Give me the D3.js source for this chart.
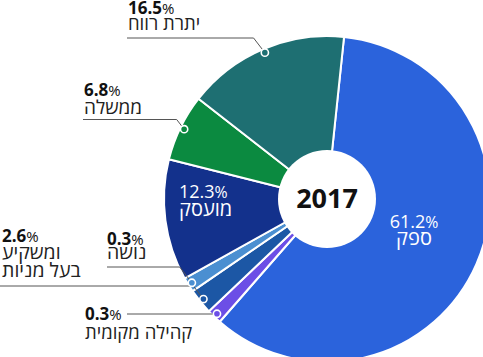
<!DOCTYPE html>
<html><head><meta charset="utf-8">
<script src="https://cdn.jsdelivr.net/npm/d3@7"></script>
<style>
html,body{margin:0;padding:0;background:#fff;overflow:hidden}
svg{display:block;font-family:"Open Sans","Noto Sans","DejaVu Sans",sans-serif}
</style>
</head><body>
<svg id="c" width="483" height="357"></svg>
<script>
// ---- data ----
const year = "2017";
const categories = ["ספק", "קהילה מקומית", "בעל מניות ומשקיע", "נושה", "מועסק", "ממשלה", "יתרת רווח"];
const values = [61.2, 0.3, 2.6, 0.3, 12.3, 6.8, 16.5];
const labelLines = [["ספק"], ["קהילה מקומית"], ["ומשקיע", "בעל מניות"], ["נושה"], ["מועסק"], ["ממשלה"], ["יתרת רווח"]];
const colors = ["#2b63dc", "#6c4ee6", "#1c57a5", "#4b8fd1", "#13318c", "#0b8a40", "#1e6f72"];

// ---- layout ----
const cx = 327, cy = 199, R = 163, R0 = 49, dotR = 159;
const outside = {
  1: {x: 85, pctY: 320, lineYs: [339], leadY: 314, leadX: 127, hs: 18.5},
  2: {x: 2, pctY: 242, lineYs: [259, 277], leadY: 286, leadX: 0, hs: 19.5},
  3: {x: 107, pctY: 245, lineYs: [259], leadY: 267, leadX: 107, hs: 19.5},
  5: {x: 84, pctY: 96, lineYs: [114], leadY: 119.5, leadX: 83, hs: 19},
  6: {x: 128, pctY: 14, lineYs: [30], leadY: 38, leadX: 127, hs: 18.5}
};
const inside = {
  0: {x: 414, pctY: 228, lineY: 245, anchor: "middle"},
  4: {x: 179, pctY: 198, lineY: 216, anchor: "start"}
};

const svg = d3.select("#c");
const data = categories.map((c, i) => ({name: c, value: values[i], lines: labelLines[i], color: colors[i]}));
const deg = Math.PI / 180;
// tiny slices are drawn at a minimum share so they stay visible
const pie = d3.pie().sort(null).value(d => Math.max(d.value, 1.5))
  .startAngle(6 * deg).endAngle(366 * deg);
const arcs = pie(data);
const arc = d3.arc().innerRadius(0).outerRadius(R);

const g = svg.append("g").attr("transform", `translate(${cx},${cy})`);
g.selectAll("path.slice").data(arcs).join("path")
  .attr("class", "slice")
  .attr("d", arc)
  .attr("fill", d => d.data.color)
  .attr("stroke", "#fff").attr("stroke-width", 2).attr("stroke-linejoin", "round");

g.append("circle").attr("r", R0).attr("fill", "#fff");
g.append("text").attr("text-anchor", "middle").attr("y", 9)
  .attr("font-size", 27).attr("font-weight", 700).attr("fill", "#111").text(year);

function pct(sel, v, size, weight, color) {
  sel.append("tspan").attr("font-size", size).attr("font-weight", weight).attr("fill", color).text(v.toFixed(1));
  sel.append("tspan").attr("font-size", size * 0.88).attr("font-weight", 400).attr("fill", color).text("%");
}

// outside labels with leaders
arcs.forEach((a, i) => {
  const L = outside[i];
  if (!L) return;
  const mid = (a.startAngle + a.endAngle) / 2;
  const dx = cx + dotR * Math.sin(mid), dy = cy - dotR * Math.cos(mid);
  const elbowX = dx - 0.77 * Math.abs(dy - L.leadY);
  svg.append("path")
    .attr("d", d3.line()([[L.leadX, L.leadY], [elbowX, L.leadY], [dx, dy]]))
    .attr("fill", "none").attr("stroke", "#555").attr("stroke-width", 1);
  svg.append("circle").attr("cx", dx).attr("cy", dy).attr("r", 3.6)
    .attr("fill", a.data.color).attr("stroke", "#fff").attr("stroke-width", 1.6);
  const t = svg.append("text").attr("x", L.x).attr("y", L.pctY);
  pct(t, a.data.value, 17, 700, "#111");
  a.data.lines.forEach((ln, k) => {
    svg.append("text").attr("x", L.x).attr("y", L.lineYs[k])
      .attr("font-size", L.hs).attr("fill", "#222").text(ln);
  });
});

// inside labels
arcs.forEach((a, i) => {
  const L = inside[i];
  if (!L) return;
  const t = svg.append("text").attr("x", L.x).attr("y", L.pctY).attr("text-anchor", L.anchor);
  pct(t, a.data.value, 18, 400, "#fff");
  svg.append("text").attr("x", L.x).attr("y", L.lineY).attr("text-anchor", L.anchor)
    .attr("font-size", 20).attr("fill", "#fff").text(a.data.lines[0]);
});
</script>
</body></html>
